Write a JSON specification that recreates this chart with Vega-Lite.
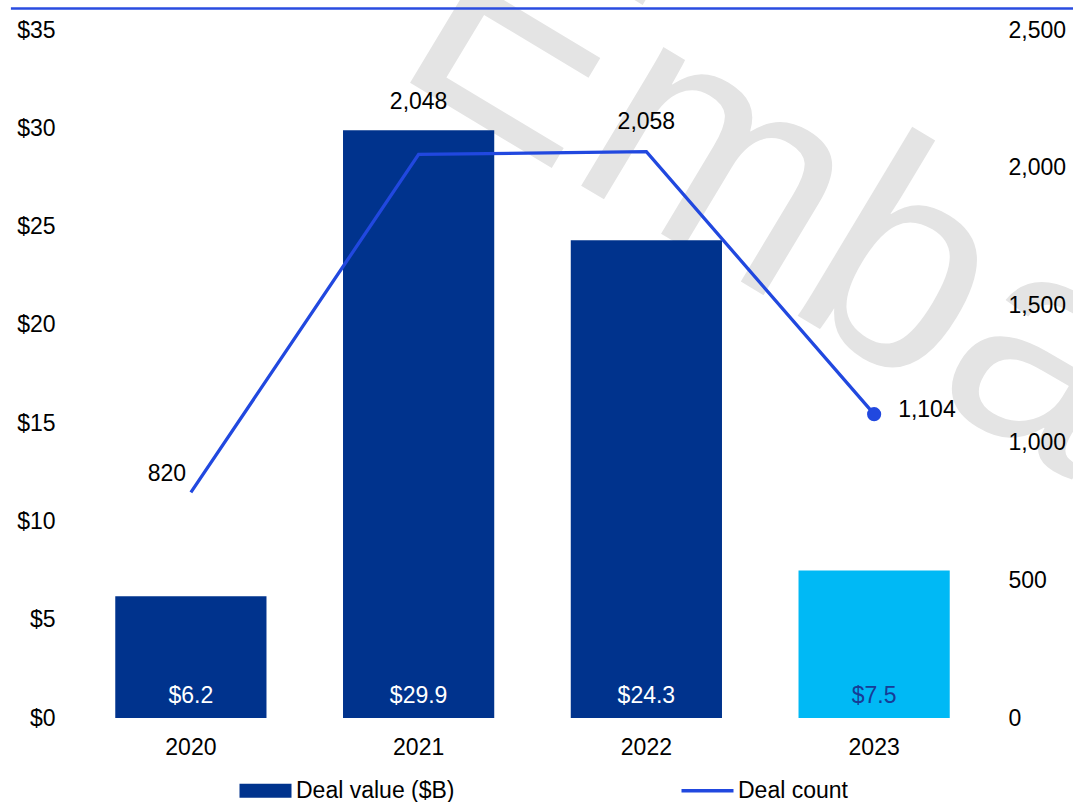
{
  "$schema": "https://vega.github.io/schema/vega-lite/v6.json",
  "width": 911,
  "height": 688,
  "autosize": {"type": "none"},
  "padding": {"left": 77, "top": 30, "right": 85, "bottom": 84},
  "background": "white",
  "config": {
    "view": {"stroke": null},
    "font": "Liberation Sans",
    "axis": {"labelFont": "Liberation Sans", "labelFontSize": 23, "labelColor": "#000000", "grid": false, "domain": false, "ticks": false, "zindex": 1},
    "text": {"font": "Liberation Sans"}
  },
  "data": {
    "values": [
      {"year": "2020", "value": 6.2, "count": 820},
      {"year": "2021", "value": 29.9, "count": 2048},
      {"year": "2022", "value": 24.3, "count": 2058},
      {"year": "2023", "value": 7.5, "count": 1104}
    ]
  },
  "layer": [
    {
      "layer": [
        {
          "data": {"values": [{"t": "Embargoed"}]},
          "mark": {"type": "text", "fontSize": 305, "angle": 31, "align": "left", "baseline": "alphabetic", "dx": -35, "color": "#e4e4e4", "font": "Liberation Sans"},
          "encoding": {
            "x": {"datum": "2021", "type": "nominal", "title": null, "axis": {"bandPosition": 0.5, "labelAngle": 0, "labelPadding": 18, "zindex": 1}},
            "y": {"datum": 32.05, "type": "quantitative", "title": null},
            "text": {"field": "t"}
          }
        },
        {
          "mark": {"type": "bar"},
          "encoding": {
            "x": {
              "field": "year", "type": "nominal", "title": null,
              "scale": {"paddingInner": 0.336, "paddingOuter": 0.168},
              "axis": {"labelAngle": 0, "labelPadding": 18, "domain": false, "ticks": false, "bandPosition": 0.5, "zindex": 1}
            },
            "y": {
              "field": "value", "type": "quantitative", "title": null,
              "scale": {"domain": [0, 35], "nice": false},
              "axis": {"orient": "left", "values": [0, 5, 10, 15, 20, 25, 30, 35], "format": "$d", "labelPadding": 22, "domain": false, "ticks": false, "grid": false, "zindex": 1}
            },
            "color": {
              "datum": "Deal value ($B)", "type": "nominal",
              "scale": {"domain": ["Deal value ($B)", "Deal count"], "range": ["#00338d", "#2148df"]},
              "condition": {"test": "datum.year === '2023'", "value": "#00b9f5"},
              "legend": {
                "orient": "none", "legendX": 177, "legendY": 749,
                "direction": "horizontal", "columns": 2, "columnPadding": 219,
                "title": null, "padding": 0,
                "labelFont": "Liberation Sans", "labelFontSize": 23, "labelColor": "#000000",
                "labelLimit": 300, "labelOffset": 19, "symbolSize": 2704,
                "encode": {
                  "symbols": {
                    "update": {
                      "shape": {"signal": "datum.value === 'Deal count' ? 'stroke' : 'M-1,-0.27H1V0.27H-1Z'"},
                      "fill": {"signal": "datum.value === 'Deal count' ? 'transparent' : '#00338d'"},
                      "stroke": {"signal": "datum.value === 'Deal count' ? '#2148df' : '#00338d'"},
                      "strokeWidth": {"signal": "datum.value === 'Deal count' ? 3.5 : 0"},
                      "size": {"value": 2704},
                      "opacity": {"value": 1}
                    }
                  }
                }
              }
            }
          }
        },
        {
          "mark": {"type": "text", "fontSize": 23, "baseline": "alphabetic", "align": "center", "dy": -15},
          "encoding": {
            "x": {"field": "year", "type": "nominal", "title": null},
            "y": {"datum": 0, "type": "quantitative", "title": null},
            "text": {"field": "value", "type": "quantitative", "format": "$.1f"},
            "color": {"condition": {"test": "datum.year === '2023'", "value": "#173c96"}, "value": "#ffffff"}
          }
        },
        {
          "data": {"values": [{"t": "top"}]},
          "mark": {"type": "rule", "color": "#2a4ce0", "strokeWidth": 2.5},
          "encoding": {
            "x": {"datum": "2020", "type": "nominal", "bandPosition": -0.69, "title": null, "axis": {"bandPosition": 0.5, "labelAngle": 0, "labelPadding": 18, "zindex": 1}},
            "x2": {"datum": "2023", "bandPosition": 1.82},
            "y": {"datum": 36.1, "type": "quantitative", "title": null}
          }
        }
      ]
    },
    {
      "layer": [
        {
          "mark": {"type": "line", "strokeWidth": 3.3},
          "encoding": {
            "x": {"field": "year", "type": "nominal", "title": null},
            "y": {
              "field": "count", "type": "quantitative", "title": null,
              "scale": {"domain": [0, 2500], "nice": false},
              "axis": {"orient": "right", "values": [0, 500, 1000, 1500, 2000, 2500], "format": ",d", "labelPadding": 20, "domain": false, "ticks": false, "grid": false, "zindex": 1}
            },
            "color": {"datum": "Deal count", "type": "nominal"}
          }
        },
        {
          "transform": [{"filter": "datum.year === '2023'"}],
          "mark": {"type": "point", "filled": true, "size": 200, "opacity": 1, "color": "#2148df"},
          "encoding": {
            "x": {"field": "year", "type": "nominal"},
            "y": {"field": "count", "type": "quantitative"}
          }
        },
        {
          "transform": [{"filter": "datum.year === '2020'"}],
          "mark": {"type": "text", "fontSize": 23, "align": "center", "baseline": "middle", "dx": -24, "dy": -18, "color": "#000000"},
          "encoding": {
            "x": {"field": "year", "type": "nominal"},
            "y": {"field": "count", "type": "quantitative"},
            "text": {"field": "count", "type": "quantitative", "format": ",d"}
          }
        },
        {
          "transform": [{"filter": "datum.year === '2021'"}],
          "mark": {"type": "text", "fontSize": 23, "align": "center", "baseline": "middle", "dx": 0, "dy": -52, "color": "#000000"},
          "encoding": {
            "x": {"field": "year", "type": "nominal"},
            "y": {"field": "count", "type": "quantitative"},
            "text": {"field": "count", "type": "quantitative", "format": ",d"}
          }
        },
        {
          "transform": [{"filter": "datum.year === '2022'"}],
          "mark": {"type": "text", "fontSize": 23, "align": "center", "baseline": "middle", "dx": 0, "dy": -30, "color": "#000000"},
          "encoding": {
            "x": {"field": "year", "type": "nominal"},
            "y": {"field": "count", "type": "quantitative"},
            "text": {"field": "count", "type": "quantitative", "format": ",d"}
          }
        },
        {
          "transform": [{"filter": "datum.year === '2023'"}],
          "mark": {"type": "text", "fontSize": 23, "align": "left", "baseline": "middle", "dx": 24, "dy": -4, "color": "#000000"},
          "encoding": {
            "x": {"field": "year", "type": "nominal"},
            "y": {"field": "count", "type": "quantitative"},
            "text": {"field": "count", "type": "quantitative", "format": ",d"}
          }
        }
      ]
    }
  ],
  "resolve": {"scale": {"y": "independent"}}
}
